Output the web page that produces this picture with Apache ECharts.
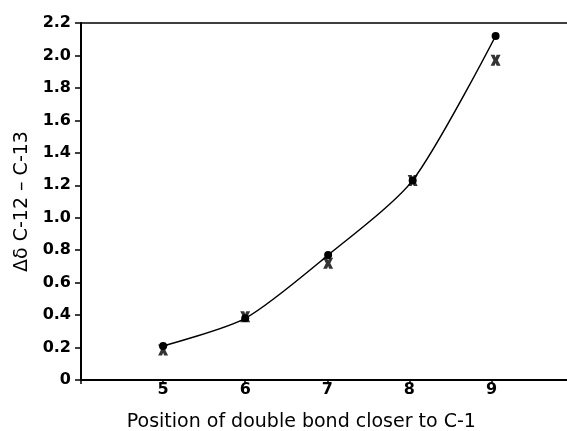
<!DOCTYPE html>
<html>
<head>
<meta charset="utf-8">
<script src="https://cdn.jsdelivr.net/npm/echarts@6/dist/echarts.min.js"></script>
<style>
html,body{margin:0;padding:0;background:#fff;}
#chart{width:567px;height:431px;}
</style>
</head>
<body>
<div id="chart"></div>
<script>
// Data
var positions = [5, 6, 7.01, 8.04, 9.05];
var dotValues = [0.21, 0.38, 0.77, 1.23, 2.12];
var crossValues = [0.185, 0.39, 0.72, 1.23, 1.97];
var xTicks = [5, 6, 7, 8, 9];
var yTicks = [0, 0.2, 0.4, 0.6, 0.8, 1.0, 1.2, 1.4, 1.6, 1.8, 2.0, 2.2];
var xTitle = 'Position of double bond closer to C-1';
var yTitle = 'Δδ C-12 – C-13';

var dotData = positions.map(function (x, i) { return [x, dotValues[i]]; });
var crossData = positions.map(function (x, i) { return [x, crossValues[i]]; });

var FONT = '"DejaVu Sans", sans-serif';
var chart = echarts.init(document.getElementById('chart'), null, {renderer: 'canvas'});
chart.setOption({
  animation: false,
  backgroundColor: '#fff',
  grid: {
    left: 81, top: 23, width: 492.6, height: 357,
    outerBoundsMode: 'none', containLabel: false,
    show: true, borderColor: '#000', borderWidth: 1.5, backgroundColor: 'transparent'
  },
  xAxis: {
    type: 'value', min: 4, max: 10, interval: 1,
    axisLine: {show: true, onZero: false, lineStyle: {color: '#000', width: 2}},
    axisTick: {show: true, length: 4, lineStyle: {color: '#000', width: 1.5}},
    splitLine: {show: false},
    axisLabel: {
      color: '#000', fontFamily: FONT, fontWeight: 'bold', fontSize: 16, margin: 2,
      formatter: function (v) { return xTicks.indexOf(v) >= 0 ? String(v) : ''; }
    },
    name: xTitle, nameLocation: 'middle', nameGap: 33,
    nameTextStyle: {color: '#000', fontFamily: FONT, fontSize: 19, padding: [0, 52, 0, 0]}
  },
  yAxis: {
    type: 'value', min: 0, max: 2.2, interval: 0.2,
    axisLine: {show: true, onZero: false, lineStyle: {color: '#000', width: 2}},
    axisTick: {show: true, inside: false, length: 6, lineStyle: {color: '#000', width: 1.5}},
    splitLine: {show: false},
    axisLabel: {
      color: '#000', fontFamily: FONT, fontWeight: 'bold', fontSize: 16, margin: 10,
      formatter: function (v) {
        var r = Math.round(v * 10) / 10;
        return r === 0 ? '0' : r.toFixed(1);
      }
    },
    name: yTitle, nameLocation: 'middle', nameGap: 49, nameRotate: 90,
    nameTextStyle: {color: '#000', fontFamily: FONT, fontSize: 19}
  },
  series: [
    {
      type: 'line', data: dotData, smooth: 0.25,
      symbol: 'circle', symbolSize: 8,
      lineStyle: {color: '#000', width: 1.5},
      itemStyle: {color: '#000'},
      z: 3
    },
    {
      type: 'scatter', data: crossData,
      symbol: 'path://M0,0 L4,0 L5,2.5 L6,0 L10,0 L7.2,5 L10,10 L6,10 L5,7.5 L4,10 L0,10 L2.8,5 Z',
      symbolSize: [10, 11],
      itemStyle: {color: '#000'},
      z: 4
    }
  ]
});
</script>
</body>
</html>
